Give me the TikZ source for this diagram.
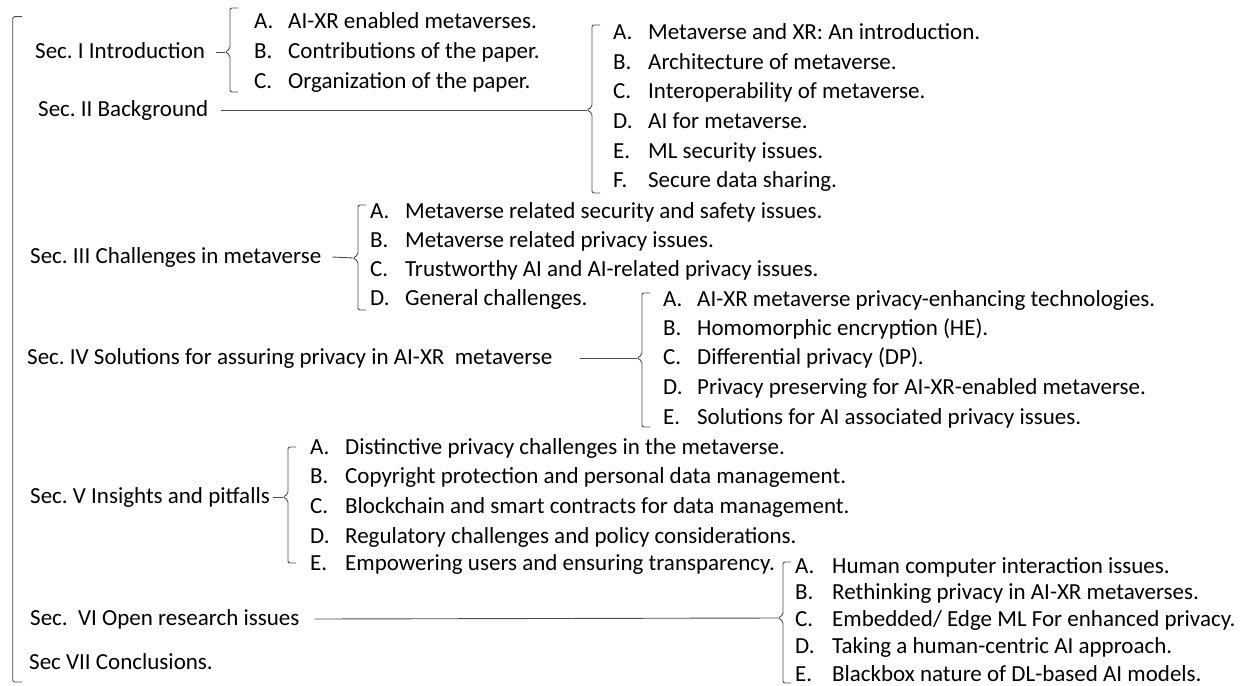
\documentclass[tikz,border=0pt]{standalone}
\usepackage{fontspec}
\setmainfont{Carlito}
\frenchspacing
\newcommand\fsz{\fontsize{23}{28}\selectfont}
% bracket with a small cusp on its left side
% #1 cusp name, #2 x, #3 top y, #4 bottom y, #5 cusp y
\newcommand\secbrace[5]{%
  \draw[brk] ({#2+8},#3) -- (#2,#3) -- (#2,{#5-3}) -- ({#2-5},#5)
    -- (#2,{#5+3}) -- (#2,#4) -- ({#2+8},#4);
  \coordinate (#1) at ({#2-5},#5);}
\begin{document}
\begin{tikzpicture}[x=1pt,y=-1pt,
  sec/.style={anchor=west,inner sep=0pt,text height=18pt,text depth=5pt,font=\fsz},
  brk/.style={draw=black!70,line width=0.9pt,rounded corners=2pt},
  link/.style={draw=black!70,line width=0.9pt}]
\useasboundingbox (0,0) rectangle (1246,685);

% outer bracket holding all sections
\draw[brk,rounded corners=1.5pt] (22,16.7) -- (12.7,16.7) -- (12.7,682) -- (22,682);

% section titles
\node[sec] (s1) at (35,52)  {Sec. I Introduction};
\node[sec] (s2) at (38,110) {Sec. II Background};
\node[sec] (s3) at (30,257) {Sec. III Challenges in metaverse};
\node[sec] (s4) at (27,358) {Sec. IV Solutions for assuring privacy in AI-XR\ \ metaverse};
\node[sec] (s5) at (30,497) {Sec. V Insights and pitfalls};
\node[sec] (s6) at (30,619) {Sec.\ \ VI Open research issues};
\node[sec] (s7) at (29,663) {Sec VII Conclusions.};

% brackets
\secbrace{c1}{230}{8}{92}{52}
\secbrace{c2}{592}{25}{193}{110}
\secbrace{c3}{358}{205}{310}{258}
\secbrace{c4}{642}{293}{427}{358}
\secbrace{c5}{288}{447}{563}{497}
\secbrace{c6}{783}{562}{683}{618}

% links from titles to brackets
\draw[link] ([xshift=11pt]s1.east) -- (c1);
\draw[link] ([xshift=12pt]s2.east) -- (c2);
\draw[link] ([xshift=11pt]s3.east) -- (c3);
\draw[link] ([xshift=27pt]s4.east) -- (c4);
\draw[link] ([xshift=3pt]s5.east) -- (c5);
\draw[link] ([xshift=15pt]s6.east) -- (c6);

% Sec. I
\node[sec] (a1) at (254,22) {\makebox[34pt][l]{A.}AI-XR enabled metaverses.};
\node[sec] (a2) at (254,52) {\makebox[34pt][l]{B.}Contributions of the paper.};
\node[sec] (a3) at (254,82) {\makebox[34pt][l]{C.}Organization of the paper.};

% Sec. II
\node[sec] (b1) at (613,33)  {\makebox[35pt][l]{A.}Metaverse and XR: An introduction.};
\node[sec] (b2) at (613,63)  {\makebox[35pt][l]{B.}Architecture of metaverse.};
\node[sec] (b3) at (613,92)  {\makebox[35pt][l]{C.}Interoperability of metaverse.};
\node[sec] (b4) at (613,122) {\makebox[35pt][l]{D.}AI for metaverse.};
\node[sec] (b5) at (613,152) {\makebox[35pt][l]{E.}ML security issues.};
\node[sec] (b6) at (613,181) {\makebox[35pt][l]{F.}Secure data sharing.};

% Sec. III
\node[sec] (d1) at (370,212) {\makebox[35pt][l]{A.}Metaverse related security and safety issues.};
\node[sec] (d2) at (370,241) {\makebox[35pt][l]{B.}Metaverse related privacy issues.};
\node[sec] (d3) at (370,270) {\makebox[35pt][l]{C.}Trustworthy AI and AI-related privacy issues.};
\node[sec] (d4) at (370,299) {\makebox[35pt][l]{D.}General challenges.};

% Sec. IV
\node[sec] (e1) at (663,300) {\makebox[34pt][l]{A.}AI-XR metaverse privacy-enhancing technologies.};
\node[sec] (e2) at (663,329) {\makebox[34pt][l]{B.}Homomorphic encryption (HE).};
\node[sec] (e3) at (663,358) {\makebox[34pt][l]{C.}Differential privacy (DP).};
\node[sec] (e4) at (663,388) {\makebox[34pt][l]{D.}Privacy preserving for AI-XR-enabled metaverse.};
\node[sec] (e5) at (663,418) {\makebox[34pt][l]{E.}Solutions for AI associated privacy issues.};

% Sec. V
\node[sec] (f1) at (310,448) {\makebox[35pt][l]{A.}Distinctive privacy challenges in the metaverse.};
\node[sec] (f2) at (310,477) {\makebox[35pt][l]{B.}Copyright protection and personal data management.};
\node[sec] (f3) at (310,507) {\makebox[35pt][l]{C.}Blockchain and smart contracts for data management.};
\node[sec] (f4) at (310,537) {\makebox[35pt][l]{D.}Regulatory challenges and policy considerations.};
\node[sec] (f5) at (310,564) {\makebox[35pt][l]{E.}Empowering users and ensuring transparency.};

% Sec. VI
\node[sec] (g1) at (795,567) {\makebox[37pt][l]{A.}Human computer interaction issues.};
\node[sec] (g2) at (795,593) {\makebox[37pt][l]{B.}Rethinking privacy in AI-XR metaverses.};
\node[sec] (g3) at (795,620) {\makebox[37pt][l]{C.}Embedded/ Edge ML For enhanced privacy.};
\node[sec] (g4) at (795,647) {\makebox[37pt][l]{D.}Taking a human-centric AI approach.};
\node[sec] (g5) at (795,675) {\makebox[37pt][l]{E.}Blackbox nature of DL-based AI models.};
\end{tikzpicture}
\end{document}
